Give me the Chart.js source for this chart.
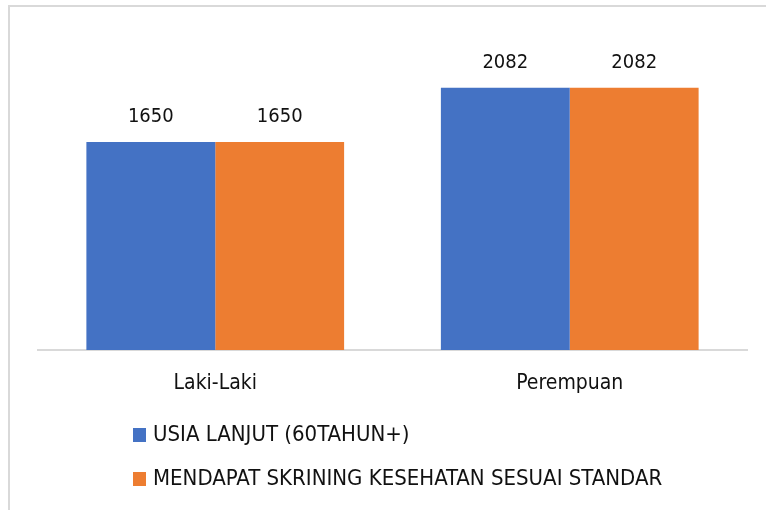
<!DOCTYPE html>
<html>
<head>
<meta charset="utf-8">
<script src="https://cdn.jsdelivr.net/npm/chart.js@4.4.1/dist/chart.umd.min.js"></script>
<style>
  html, body { margin: 0; padding: 0; background: #fff; overflow: hidden; }
  canvas { display: block; }
</style>
</head>
<body>
<canvas id="myChart" width="766" height="510"></canvas>
<script>
var categories = ['Laki-Laki', 'Perempuan'];
var seriesNames = ['USIA LANJUT (60TAHUN+)', 'MENDAPAT SKRINING KESEHATAN SESUAI STANDAR'];
var usiaLanjut = [1650, 2082];
var skrining = [1650, 2082];

var fontName = "'Liberation Sans Narrow', 'DejaVu Sans Condensed', 'Liberation Sans', sans-serif";

// outer frame of the chart (only left and top edges are inside the picture)
var frame = {
    id: 'frame',
    beforeDraw: function(chart) {
        var ctx = chart.ctx;
        ctx.save();
        ctx.fillStyle = '#d9d9d9';
        ctx.fillRect(8, 5, 2, chart.height);
        ctx.fillRect(8, 5, chart.width, 2);
        ctx.restore();
    }
};

// value labels above each bar
var valueLabels = {
    id: 'valueLabels',
    afterDatasetsDraw: function(chart) {
        var ctx = chart.ctx;
        ctx.save();
        ctx.fillStyle = '#111';
        ctx.font = '20px ' + fontName;
        ctx.textAlign = 'center';
        ctx.textBaseline = 'middle';
        chart.data.datasets.forEach(function(ds, i) {
            chart.getDatasetMeta(i).data.forEach(function(bar, j) {
                ctx.fillText(ds.data[j], bar.x, bar.y - 25);
            });
        });
        ctx.restore();
    }
};

// legend drawn as a vertical list under the axis
var sideLegend = {
    id: 'sideLegend',
    afterDraw: function(chart) {
        var ctx = chart.ctx;
        ctx.save();
        ctx.font = '22px ' + fontName;
        ctx.textBaseline = 'middle';
        chart.data.datasets.forEach(function(ds, i) {
            var y = 435 + i * 44;
            ctx.fillStyle = ds.backgroundColor;
            ctx.fillRect(133, y - 7, 13, 14);
            ctx.fillStyle = '#111';
            ctx.fillText(ds.label, 153, y);
        });
        ctx.restore();
    }
};

var myChart = new Chart(document.getElementById('myChart'), {
    type: 'bar',
    data: {
        labels: categories,
        datasets: [{
            label: seriesNames[0],
            data: usiaLanjut,
            backgroundColor: '#4472C4',
            categoryPercentage: 0.727,
            barPercentage: 1
        }, {
            label: seriesNames[1],
            data: skrining,
            backgroundColor: '#ED7D31',
            categoryPercentage: 0.727,
            barPercentage: 1
        }]
    },
    options: {
        responsive: false,
        animation: false,
        layout: { padding: { left: 38, right: 19, top: 35, bottom: 0 } },
        plugins: {
            legend: { display: false },
            tooltip: { enabled: false }
        },
        scales: {
            x: {
                grid: { display: false, drawTicks: false },
                border: { display: true, color: '#d9d9d9', width: 2 },
                ticks: { color: '#111', padding: 21, font: { family: fontName, size: 21 } },
                afterFit: function(s) { s.height = 160; }
            },
            y: {
                display: false,
                min: 0,
                max: 2500
            }
        }
    },
    plugins: [frame, valueLabels, sideLegend]
});
</script>
</body>
</html>
